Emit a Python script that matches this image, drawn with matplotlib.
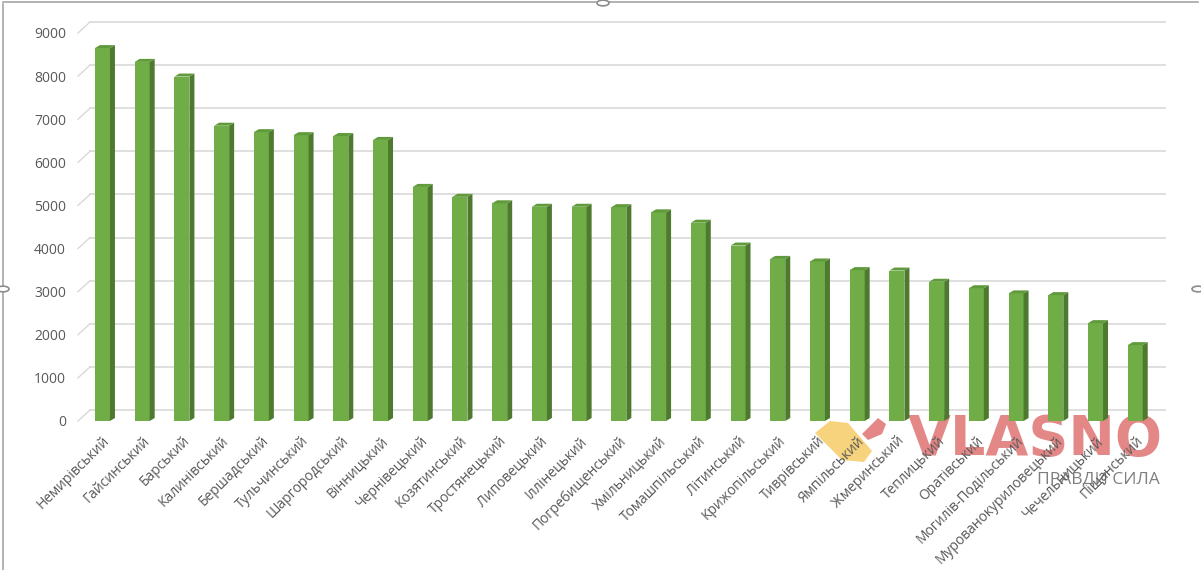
import matplotlib
matplotlib.use("Agg")
import matplotlib.pyplot as plt
from matplotlib.patches import Circle, Polygon
from matplotlib.lines import Line2D

districts = [
    "Немирівський", "Гайсинський", "Барський", "Калинівський", "Бершадський",
    "Тульчинський", "Шаргородський", "Вінницький", "Чернівецький", "Козятинський",
    "Тростянецький", "Липовецький", "Іллінецький", "Погребищенський", "Хмільницький",
    "Томашпільський", "Літинський", "Крижопільський", "Тиврівський", "Ямпільський",
    "Жмеринський", "Теплицький", "Оратівський", "Могилів-Подільський",
    "Мурованокуриловецький", "Чечельницький", "Піщанський",
]
values = [
    8650, 8330, 7990, 6850, 6700, 6630, 6610, 6520, 5430, 5200,
    5050, 4970, 4970, 4960, 4840, 4600, 4070, 3760, 3700, 3500,
    3490, 3230, 3080, 2960, 2920, 2270, 1760,
]
y_ticks = list(range(0, 10000, 1000))

W, H = 1201, 570
FRONT = "#70ad47"
SIDE = "#4e7a2f"
TOP = "#5f9a3b"
GRID = "#d9d9d9"
TEXT = "#595959"

plt.rcParams["font.family"] = ["Open Sans", "DejaVu Sans"]

fig = plt.figure(figsize=(W / 100, H / 100), dpi=100)

# front plane of the plot: category -0.5 .. 26.5, value 0 .. 9000
x0, x1 = 82.6, 1155.1
ytop, ybot = 33, 421
ax = fig.add_axes([x0 / W, 1 - ybot / H, (x1 - x0) / W, (ybot - ytop) / H])
ax.patch.set_visible(False)
ax.set_xlim(-0.5, len(values) - 0.5)
ax.set_ylim(0, 9000)
for s in ax.spines.values():
    s.set_visible(False)

ux = (x1 - x0) / len(values)      # px per category
uy = (ybot - ytop) / 9000         # px per unit

# gridlines on the back wall, with the slanted stub on the left
gdx, gdy = 12 / ux, 11 / uy
gx_left = (78 - x0) / ux - 0.5
gx_right = (1165 - x0) / ux - 0.5
for t in y_ticks:
    ax.add_line(Line2D([gx_left, gx_left + gdx], [t, t + gdy], color=GRID,
                       lw=1, clip_on=False, zorder=1))
    ax.add_line(Line2D([gx_left + gdx, gx_right], [t + gdy, t + gdy], color=GRID,
                       lw=1.2, clip_on=False, zorder=1))

# columns with side and top faces
bw = 15 / ux
bdx, bdy = 5 / ux, 3 / uy
for i, v in enumerate(values):
    ax.bar(i, v, width=bw, color=FRONT, zorder=3, linewidth=0)
    r = i + bw / 2
    l = i - bw / 2
    ax.fill([r, r + bdx, r + bdx, r], [0, bdy, v + bdy, v], color=SIDE,
            zorder=3, lw=0, clip_on=False)
    ax.fill([l, l + bdx, r + bdx, r], [v, v + bdy, v + bdy, v], color=TOP,
            zorder=3, lw=0, clip_on=False)

ax.set_yticks(y_ticks)
ax.set_yticklabels([str(t) for t in y_ticks], color=TEXT, fontsize=10)
ax.set_xticks(range(len(values)))
ax.set_xticklabels(districts, rotation=45, ha="right", rotation_mode="anchor",
                   color=TEXT, fontsize=10)
ax.tick_params(axis="both", length=0)
ax.tick_params(axis="y", pad=12)
ax.tick_params(axis="x", pad=9)


def fp(x, y):
    return (x / W, 1 - y / H)


# chart frame with selection handles
fig.add_artist(Line2D([3 / W, 3 / W], [0, 1 - 4 / H], color="#a6a6a6", lw=1.2))
fig.add_artist(Line2D([3 / W, 1198 / W], [1 - 1.5 / H, 1 - 1.5 / H], color="#a6a6a6", lw=1.2))
for cx, cy in [(3, 289), (603, 3), (1198, 289)]:
    fig.add_artist(Circle(fp(cx, cy), 6 / W, transform=fig.transFigure,
                          facecolor="white", edgecolor="#8c8c8c", lw=1.2, zorder=10))

# watermark, kept under the axes so labels stay readable
fig.add_artist(Polygon([fp(830, 421), fp(848, 423), fp(872, 451), fp(864, 462),
                        fp(842, 460), fp(815, 433)], closed=True,
                       transform=fig.transFigure, facecolor="#f6cf6e",
                       edgecolor="none", alpha=0.9, zorder=-1))
fig.add_artist(Polygon([fp(878, 418), fp(886, 424), fp(882, 434), fp(868, 440),
                        fp(862, 434)], closed=True, transform=fig.transFigure,
                       facecolor="#e07a7a", edgecolor="none", alpha=0.9, zorder=-1))
fig.text(1035 / W, 1 - 440 / H, "VLASNO", ha="center", va="center",
         fontsize=40, fontweight="bold", color="#e07a7a", alpha=0.9,
         family=["DejaVu Sans"], zorder=-1)
fig.text(1160 / W, 1 - 479 / H, "ПРАВДИ СИЛА", ha="right", va="center",
         fontsize=12.5, color="#7f7f7f", zorder=-1)

fig.savefig("out.png", dpi=100)
